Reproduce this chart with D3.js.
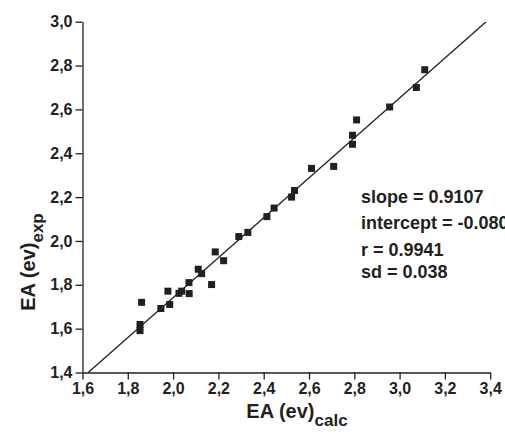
<!DOCTYPE html>
<html><head><meta charset="utf-8">
<script src="https://cdn.jsdelivr.net/npm/d3@7"></script>
<style>
html,body{margin:0;padding:0;background:#fff;}
svg{display:block;font-family:"Liberation Sans",Arial,sans-serif;}
</style></head>
<body><svg id="c" width="505" height="437"></svg>
<script>
// Data (EA calc vs EA exp)
const calcValues = [1.861,1.854,1.854,1.946,1.977,1.985,2.026,2.038,2.070,2.071,2.111,2.126,2.170,2.186,2.223,2.290,2.330,2.414,2.446,2.523,2.536,2.611,2.709,2.792,2.792,2.810,2.956,3.074,3.111];
const expValues  = [1.720,1.619,1.591,1.692,1.771,1.710,1.761,1.771,1.810,1.760,1.871,1.851,1.801,1.950,1.910,2.020,2.039,2.111,2.150,2.200,2.230,2.331,2.340,2.482,2.441,2.552,2.611,2.700,2.781];
const xTicks = [1.6,1.8,2.0,2.2,2.4,2.6,2.8,3.0,3.2,3.4];
const yTicks = [1.4,1.6,1.8,2.0,2.2,2.4,2.6,2.8,3.0];
const fitSlope = 0.9107, fitIntercept = -0.080;
const statLines = ["slope = 0.9107","intercept = -0.080","r = 0.9941","sd = 0.038"];

const svg = d3.select("#c");
const ink = "#231f20";
const x = d3.scaleLinear().domain([1.6,3.4]).range([82.5,490.2]);
const y = d3.scaleLinear().domain([1.4,3.0]).range([372.5,21.7]);
const fmt = d => d.toFixed(1).replace(".", ",");

// minor ticks
const xMinor = xTicks.slice(0,-1).map(v => +(v+0.1).toFixed(2));
const yMinor = yTicks.slice(0,-1).map(v => +(v+0.1).toFixed(2));

const gx = svg.append("g").attr("transform",`translate(0,${y(1.4)})`);
gx.call(d3.axisBottom(x).tickValues(xMinor).tickSize(4).tickSizeOuter(0).tickFormat(""));
gx.call(d3.axisBottom(x).tickValues(xTicks).tickSize(7).tickSizeOuter(0).tickFormat(fmt).tickPadding(3));
const gy = svg.append("g").attr("transform",`translate(${x(1.6)},0)`);
gy.call(d3.axisLeft(y).tickValues(yMinor).tickSize(4).tickSizeOuter(0).tickFormat(""));
gy.call(d3.axisLeft(y).tickValues(yTicks).tickSize(7).tickSizeOuter(0).tickFormat(fmt).tickPadding(3));
svg.selectAll(".domain, .tick line").attr("stroke",ink).attr("stroke-width",1.3);
svg.selectAll(".tick text").attr("fill",ink).attr("font-size",16).attr("font-weight","bold").attr("font-family","Liberation Sans, Arial, sans-serif");

// fit line, clipped to plot
svg.append("clipPath").attr("id","clip").append("rect")
  .attr("x",x(1.6)).attr("y",y(3.0)).attr("width",x(3.4)-x(1.6)).attr("height",y(1.4)-y(3.0));
const x0 = (1.4 - fitIntercept)/fitSlope, x1 = (3.0 - fitIntercept)/fitSlope;
svg.append("line").attr("clip-path","url(#clip)")
  .attr("x1",x(x0)).attr("y1",y(fitSlope*x0+fitIntercept))
  .attr("x2",x(x1)).attr("y2",y(fitSlope*x1+fitIntercept))
  .attr("stroke",ink).attr("stroke-width",1.3);

// points
const s = 7;
svg.append("g").selectAll("rect").data(calcValues.map((c,i)=>[c,expValues[i]])).join("rect")
  .attr("x",d=>x(d[0])-s/2).attr("y",d=>y(d[1])-s/2).attr("width",s).attr("height",s).attr("fill",ink);

// stats text
const statY = [203,229,256,278];
svg.append("g").selectAll("text").data(statLines).join("text")
  .attr("x",361).attr("y",(d,i)=>statY[i]).text(d=>d)
  .attr("fill",ink).attr("font-size",18).attr("font-weight","bold");

// axis titles
const xt = svg.append("text").attr("x",297).attr("y",418).attr("text-anchor","middle")
  .attr("fill",ink).attr("font-weight","bold").attr("font-size",20);
xt.append("tspan").text("EA (ev)");
xt.append("tspan").attr("font-size",17).attr("dy",8).text("calc");

const yt = svg.append("text").attr("transform",`translate(35,262) rotate(-90)`).attr("text-anchor","middle")
  .attr("fill",ink).attr("font-weight","bold").attr("font-size",20);
yt.append("tspan").text("EA (ev)");
yt.append("tspan").attr("font-size",17).attr("dy",8).text("exp");
</script></body></html>
